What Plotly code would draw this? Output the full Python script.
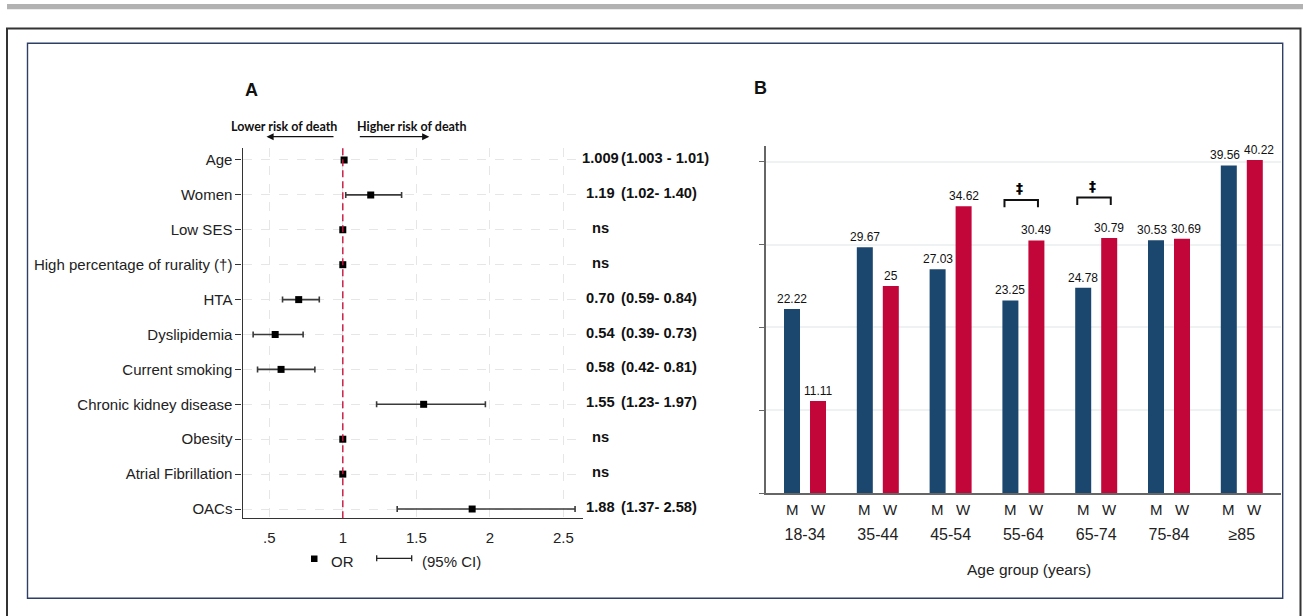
import plotly.graph_objects as go

W, H = 1303, 616

# ---------------- Panel A data ----------------
factors = ["Age", "Women", "Low SES", "High percentage of rurality (†)", "HTA",
           "Dyslipidemia", "Current smoking", "Chronic kidney disease", "Obesity",
           "Atrial Fibrillation", "OACs"]
or_vals = [1.009, 1.19, 1.0, 1.0, 0.70, 0.54, 0.58, 1.55, 1.0, 1.0, 1.88]
ci_low = [1.003, 1.02, None, None, 0.59, 0.39, 0.42, 1.23, None, None, 1.37]
ci_high = [1.01, 1.40, None, None, 0.84, 0.73, 0.81, 1.97, None, None, 2.58]
or_text = ["1.009", "1.19", "ns", "ns", "0.70", "0.54", "0.58", "1.55", "ns", "ns", "1.88"]
ci_text = ["(1.003 - 1.01)", "(1.02- 1.40)", "", "", "(0.59- 0.84)", "(0.39- 0.73)",
           "(0.42- 0.81)", "(1.23- 1.97)", "", "", "(1.37- 2.58)"]
a_xticks = [0.5, 1, 1.5, 2, 2.5]
a_xtick_labels = [".5", "1", "1.5", "2", "2.5"]

# ---------------- Panel B data ----------------
age_groups = ["18-34", "35-44", "45-54", "55-64", "65-74", "75-84", "≥85"]
men = [22.22, 29.67, 27.03, 23.25, 24.78, 30.53, 39.56]
women = [11.11, 25, 34.62, 30.49, 30.79, 30.69, 40.22]
sex_labels = ["M", "W"]
sig_groups = ["55-64", "65-74"]
b_yticks = [0, 10, 20, 30, 40]

FONT = "Liberation Sans, Arial, sans-serif"
BLUE = "#1b466d"
RED = "#c3063a"


def px(x):
    return x / W


def py(y):
    return 1 - y / H


rows = list(range(len(factors)))

fig = go.Figure()

# CI bars (only rows with a CI)
ci_rows = [r for r in rows if ci_low[r] is not None]
fig.add_trace(go.Scatter(
    x=[or_vals[r] for r in ci_rows], y=ci_rows, mode="markers",
    marker=dict(size=1, color="rgba(0,0,0,0)"),
    error_x=dict(type="data", symmetric=False,
                 array=[ci_high[r] - or_vals[r] for r in ci_rows],
                 arrayminus=[or_vals[r] - ci_low[r] for r in ci_rows],
                 color="#3a3a3a", thickness=1.6, width=3),
    xaxis="x", yaxis="y", showlegend=False, hoverinfo="skip"))
# OR markers
fig.add_trace(go.Scatter(
    x=or_vals, y=rows, mode="markers",
    marker=dict(symbol="square", size=7, color="black"),
    xaxis="x", yaxis="y", showlegend=False))

# Panel B bars
fig.add_trace(go.Bar(x=age_groups, y=men, marker=dict(color=BLUE, line=dict(width=0)),
                     xaxis="x2", yaxis="y2", showlegend=False, name="M"))
fig.add_trace(go.Bar(x=age_groups, y=women, marker=dict(color=RED, line=dict(width=0)),
                     xaxis="x2", yaxis="y2", showlegend=False, name="W"))

annotations = []
shapes = []

# Panel A right column
for r in rows:
    annotations.append(dict(xref="paper", yref="y", x=px(600), y=r, text="<b>%s</b>" % or_text[r],
                            showarrow=False, xanchor="center", yanchor="middle", yshift=2,
                            font=dict(family=FONT, size=14.7, color="#111")))
    if ci_text[r]:
        annotations.append(dict(xref="paper", yref="y", x=px(619), y=r, text="<b>%s</b>" % ci_text[r],
                                showarrow=False, xanchor="left", yanchor="middle", yshift=2,
                                font=dict(family=FONT, size=14.7, color="#111")))

# Panel titles
annotations.append(dict(xref="paper", yref="paper", x=px(251), y=py(90), text="<b>A</b>",
                        showarrow=False, xanchor="center", yanchor="middle",
                        font=dict(family=FONT, size=18, color="#111")))
annotations.append(dict(xref="paper", yref="paper", x=px(760), y=py(88), text="<b>B</b>",
                        showarrow=False, xanchor="center", yanchor="middle",
                        font=dict(family=FONT, size=18, color="#111")))

# Risk direction labels + arrows
annotations.append(dict(xref="paper", yref="paper", x=px(283.5), y=py(126), text="<b>Lower risk of death</b>",
                        showarrow=False, xanchor="center", yanchor="middle",
                        font=dict(family="Lato, sans-serif", size=12.5, color="#111")))
annotations.append(dict(xref="paper", yref="paper", x=px(411.5), y=py(126), text="<b>Higher risk of death</b>",
                        showarrow=False, xanchor="center", yanchor="middle",
                        font=dict(family="Lato, sans-serif", size=12.5, color="#111")))
annotations.append(dict(xref="paper", yref="paper", x=px(266.5), y=py(136.7), ax=68.5, ay=0,
                        axref="pixel", ayref="pixel", text="", showarrow=True,
                        arrowhead=2, arrowsize=1.1, arrowwidth=1.3, arrowcolor="#111"))
annotations.append(dict(xref="paper", yref="paper", x=px(429.3), y=py(136.7), ax=-71, ay=0,
                        axref="pixel", ayref="pixel", text="", showarrow=True,
                        arrowhead=2, arrowsize=1.1, arrowwidth=1.3, arrowcolor="#111"))

# Panel A legend
shapes.append(dict(type="rect", xref="paper", yref="paper", x0=px(311), x1=px(317.5), y0=py(562), y1=py(555.5),
                   fillcolor="black", line=dict(width=0)))
annotations.append(dict(xref="paper", yref="paper", x=px(329), y=py(561.5), text="OR", showarrow=False,
                        xanchor="left", yanchor="middle", font=dict(family=FONT, size=15, color="#222")))
shapes.append(dict(type="line", xref="paper", yref="paper", x0=px(376.7), x1=px(411.7), y0=py(558.3), y1=py(558.3),
                   line=dict(color="#222", width=1.3)))
for xx in (376.7, 411.7):
    shapes.append(dict(type="line", xref="paper", yref="paper", x0=px(xx), x1=px(xx), y0=py(555.3), y1=py(561.3),
                       line=dict(color="#222", width=1.3)))
annotations.append(dict(xref="paper", yref="paper", x=px(420), y=py(561.5), text="(95% CI)", showarrow=False,
                        xanchor="left", yanchor="middle", font=dict(family=FONT, size=15, color="#222")))

# Reference line OR = 1
shapes.append(dict(type="line", xref="x", yref="y domain", x0=1, x1=1, y0=0, y1=1,
                   line=dict(color="#c8143c", width=1.4, dash="7px,4px")))

# Panel B: bar value labels
for i, g in enumerate(age_groups):
    close = abs(men[i] - women[i]) < 2
    annotations.append(dict(xref="x2", yref="y2", x=g, y=men[i], text="%g" % men[i], showarrow=False,
                            xanchor="center", yanchor="bottom", xshift=-13 - (4 if close else 0), yshift=1,
                            font=dict(family=FONT, size=12, color="#111")))
    annotations.append(dict(xref="x2", yref="y2", x=g, y=women[i], text="%g" % women[i], showarrow=False,
                            xanchor="center", yanchor="bottom", xshift=13 + (4 if close else 0), yshift=1,
                            font=dict(family=FONT, size=12, color="#111")))
    for s, lab in enumerate(sex_labels):
        annotations.append(dict(xref="x2", yref="paper", x=g, y=py(509), text=lab, showarrow=False,
                                xanchor="center", yanchor="middle", xshift=-13 if s == 0 else 13,
                                font=dict(family=FONT, size=15, color="#222")))

# Significance brackets
for g in sig_groups:
    i = age_groups.index(g)
    top = max(men[i], women[i]) + 4.9
    x0, x1 = i - 0.26, i + 0.2
    shapes.append(dict(type="path", xref="x2", yref="y2",
                       path="M %f,%f L %f,%f L %f,%f L %f,%f" % (x0, top - 0.9, x0, top, x1, top, x1, top - 0.9),
                       line=dict(color="#111", width=2)))
    annotations.append(dict(xref="x2", yref="y2", x=i - 0.05, y=top + 1.4, text="<b>‡</b>", showarrow=False,
                            xanchor="center", yanchor="middle",
                            font=dict(family="DejaVu Sans, sans-serif", size=14, color="#000")))

annotations.append(dict(xref="paper", yref="paper", x=px(1029), y=py(569), text="Age group (years)",
                        showarrow=False, xanchor="center", yanchor="middle",
                        font=dict(family=FONT, size=15.5, color="#222")))

# Frames
shapes.append(dict(type="rect", xref="paper", yref="paper", x0=px(7), x1=px(1310), y0=py(9.3), y1=py(4),
                   fillcolor="#b2b2b2", line=dict(width=0), layer="below"))
shapes.append(dict(type="rect", xref="paper", yref="paper", x0=px(7), x1=px(1300.5), y0=py(640), y1=py(28.5),
                   fillcolor="rgba(0,0,0,0)", line=dict(color="#333", width=2)))
shapes.append(dict(type="rect", xref="paper", yref="paper", x0=px(27.5), x1=px(1282.7), y0=py(598.3), y1=py(43.3),
                   fillcolor="rgba(0,0,0,0)", line=dict(color="#2e3f66", width=1.4)))

fig.update_layout(
    width=W, height=H, margin=dict(l=0, r=0, t=0, b=0),
    paper_bgcolor="white", plot_bgcolor="white",
    font=dict(family=FONT, size=14, color="#222"),
    barmode="group", bargap=0.2857, bargroupgap=0.3846,
    xaxis=dict(domain=[px(242.5), px(583)], range=[0.3177, 2.634], tickvals=a_xticks, ticktext=a_xtick_labels,
               showline=True, linecolor="#333", linewidth=1.2, ticks="", showgrid=True, gridcolor="#e6e6e6",
               griddash="dash", gridwidth=1, zeroline=False, tickfont=dict(size=15, family=FONT, color="#222"),
               ticklabelstandoff=6, anchor="y"),
    yaxis=dict(domain=[py(518.3), py(147.7)], range=[10.266, -0.352], tickvals=rows, ticktext=factors,
               showline=True, linecolor="#333", linewidth=1.2, ticks="outside", ticklen=6, tickcolor="#333",
               showgrid=True, gridcolor="#e6e6e6", griddash="dash", gridwidth=1, zeroline=False,
               tickfont=dict(size=15, family=FONT, color="#222"), anchor="x"),
    xaxis2=dict(domain=[px(765.7), px(1281.4)], range=[-0.54, 6.544], type="category",
                showline=True, linecolor="#666", linewidth=2, ticks="", showgrid=False,
                tickfont=dict(size=16, family=FONT, color="#222"), ticklabelstandoff=26, anchor="y2"),
    yaxis2=dict(domain=[py(493), py(146)], range=[0, 41.9], tickvals=b_yticks, showticklabels=False,
                showline=True, linecolor="#666", linewidth=1.5, ticks="outside", ticklen=5, tickcolor="#666",
                showgrid=True, gridcolor="#eef2f2", gridwidth=1.5, zeroline=False, anchor="x2"),
    annotations=annotations, shapes=shapes,
)

fig.write_html("out.html", config={"displayModeBar": False},
               post_script="document.body.style.margin='0';document.body.style.overflow='hidden';")
